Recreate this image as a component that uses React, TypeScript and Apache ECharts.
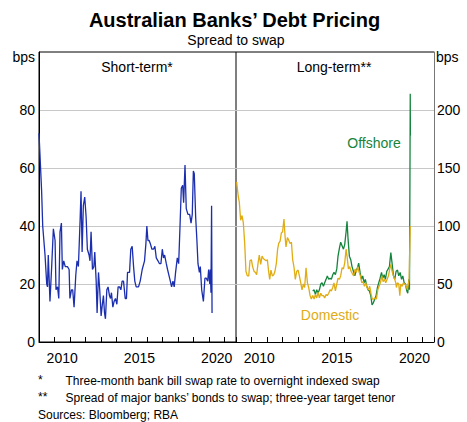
import React, { useEffect, useRef } from "react";
import * as echarts from "echarts";

const FONT = "'Liberation Sans', Arial, Helvetica, sans-serif";

// Short-term (BBSW-OIS), decimal years and bps
const shortX = [2009.0, 2009.17, 2009.24, 2009.39, 2009.5, 2009.55, 2009.6, 2009.71, 2009.82, 2009.93,
  2010.04, 2010.1, 2010.2, 2010.28, 2010.36, 2010.45, 2010.51, 2010.6, 2010.7, 2010.84,
  2010.95, 2011.0, 2011.1, 2011.18, 2011.27, 2011.38, 2011.46, 2011.55, 2011.66, 2011.72,
  2011.79, 2011.87, 2011.96, 2012.05, 2012.13, 2012.24, 2012.3, 2012.37, 2012.46, 2012.55,
  2012.61, 2012.7, 2012.76, 2012.85, 2012.93, 2013.02, 2013.1, 2013.17, 2013.24, 2013.3,
  2013.39, 2013.47, 2013.56, 2013.63, 2013.69, 2013.78, 2013.86, 2013.95, 2014.04, 2014.12,
  2014.21, 2014.3, 2014.38, 2014.47, 2014.58, 2014.66, 2014.73, 2014.86, 2014.94, 2015.03,
  2015.12, 2015.2, 2015.29, 2015.44, 2015.55, 2015.68, 2015.83, 2015.92, 2015.98, 2016.05,
  2016.13, 2016.2, 2016.31, 2016.41, 2016.5, 2016.59, 2016.7, 2016.8, 2016.89, 2016.98,
  2017.06, 2017.13, 2017.24, 2017.32, 2017.41, 2017.5, 2017.58, 2017.67, 2017.75, 2017.84,
  2017.95, 2018.04, 2018.12, 2018.21, 2018.3, 2018.36, 2018.45, 2018.53, 2018.64, 2018.75,
  2018.84, 2018.92, 2018.99, 2019.05, 2019.14, 2019.22, 2019.29, 2019.38, 2019.44, 2019.53,
  2019.64, 2019.74, 2019.83, 2019.92, 2019.98, 2020.05, 2020.09, 2020.13, 2020.17, 2020.2];
const shortV = [72, 52, 40, 30, 20, 19, 30, 14, 26, 39,
  35, 18, 19, 15, 38, 41, 25, 28, 26, 26,
  25, 15, 18, 18, 12, 23, 28, 26, 42, 52,
  31, 47, 50, 43, 32, 30, 28, 38, 25, 26,
  31, 21, 10, 24, 18, 9, 13, 16, 10, 8,
  18, 19, 16, 15, 17, 12, 14, 15, 13, 19,
  19, 18, 21, 21, 15, 15, 24, 24, 32, 33,
  26, 21, 19, 19, 21, 25, 28, 34, 40, 35,
  35, 34, 32, 32, 33, 29, 28, 27, 27, 32,
  29, 30, 27, 25, 23, 21, 19, 21, 19, 24,
  29, 27, 39, 53, 54, 48, 61, 46, 44, 44,
  41, 44, 59, 58, 43, 35, 27, 24, 26, 18,
  14, 22, 22, 21, 25, 20, 25, 17, 47, 10];

// Long-term, domestic
const domX = [2009.04, 2009.15, 2009.21, 2009.3, 2009.39, 2009.47, 2009.56, 2009.64, 2009.73, 2009.82,
  2009.9, 2009.99, 2010.07, 2010.16, 2010.25, 2010.33, 2010.42, 2010.5, 2010.59, 2010.68,
  2010.76, 2010.85, 2010.93, 2011.02, 2011.1, 2011.17, 2011.25, 2011.34, 2011.43, 2011.51,
  2011.6, 2011.68, 2011.75, 2011.84, 2011.92, 2012.0, 2012.09, 2012.16, 2012.22, 2012.31,
  2012.39, 2012.48, 2012.57, 2012.65, 2012.74, 2012.82, 2012.91, 2013.0, 2013.08, 2013.17,
  2013.25, 2013.34, 2013.42, 2013.51, 2013.6, 2013.68, 2013.77, 2013.85, 2013.94, 2014.03,
  2014.11, 2014.2, 2014.28, 2014.37, 2014.46, 2014.54, 2014.63, 2014.71, 2014.8, 2014.88,
  2014.97, 2015.06, 2015.14, 2015.23, 2015.31, 2015.4, 2015.49, 2015.57, 2015.66, 2015.74,
  2015.83, 2015.92, 2016.0, 2016.09, 2016.15, 2016.24, 2016.32, 2016.41, 2016.49, 2016.58,
  2016.67, 2016.75, 2016.84, 2016.93, 2017.01, 2017.1, 2017.18, 2017.27, 2017.35, 2017.44,
  2017.53, 2017.61, 2017.7, 2017.78, 2017.87, 2017.96, 2018.04, 2018.13, 2018.21, 2018.3,
  2018.39, 2018.47, 2018.56, 2018.64, 2018.73, 2018.82, 2018.9, 2018.97, 2019.05, 2019.14,
  2019.22, 2019.29, 2019.33, 2019.4, 2019.48, 2019.55, 2019.61, 2019.7, 2019.78, 2019.87,
  2019.96, 2020.04, 2020.11, 2020.15, 2020.2, 2020.22];
const domV = [138, 125, 121, 105, 109, 103, 85, 61, 57, 57,
  70, 71, 65, 61, 60, 58, 68, 75, 67, 74,
  72, 71, 70, 71, 61, 54, 62, 57, 58, 61,
  68, 80, 85, 87, 94, 95, 106, 91, 82, 90,
  88, 85, 86, 71, 64, 54, 61, 62, 57, 51,
  45, 50, 47, 64, 51, 47, 40, 37, 40, 37,
  41, 38, 43, 38, 42, 40, 40, 38, 41, 40,
  42, 45, 44, 47, 51, 44, 50, 55, 54, 57,
  64, 63, 68, 80, 74, 63, 65, 61, 59, 57,
  63, 60, 65, 60, 57, 51, 52, 48, 51, 47,
  45, 48, 41, 37, 37, 38, 37, 45, 48, 51,
  57, 52, 54, 51, 54, 57, 63, 67, 61, 57,
  54, 51, 47, 51, 50, 40, 50, 48, 51, 50,
  48, 45, 51, 54, 88, 100];

// Long-term, offshore
const offX = [2013.94, 2014.03, 2014.11, 2014.2, 2014.28, 2014.37, 2014.46, 2014.54, 2014.63, 2014.71,
  2014.8, 2014.88, 2014.97, 2015.06, 2015.14, 2015.23, 2015.31, 2015.4, 2015.49, 2015.57,
  2015.66, 2015.74, 2015.83, 2015.92, 2016.0, 2016.09, 2016.15, 2016.22, 2016.3, 2016.39,
  2016.47, 2016.56, 2016.65, 2016.73, 2016.82, 2016.9, 2016.99, 2017.08, 2017.16, 2017.25,
  2017.33, 2017.42, 2017.5, 2017.59, 2017.68, 2017.76, 2017.85, 2017.94, 2018.02, 2018.11,
  2018.19, 2018.28, 2018.37, 2018.45, 2018.54, 2018.62, 2018.71, 2018.8, 2018.88, 2018.97,
  2019.05, 2019.14, 2019.22, 2019.31, 2019.4, 2019.48, 2019.57, 2019.66, 2019.74, 2019.83,
  2019.91, 2020.0, 2020.06, 2020.13, 2020.17, 2020.2, 2020.22, 2020.23];
const offV = [44, 45, 41, 45, 42, 45, 50, 51, 48, 51,
  54, 57, 54, 55, 54, 58, 60, 58, 63, 74,
  81, 86, 83, 80, 84, 95, 104, 88, 74, 71,
  65, 61, 57, 61, 64, 68, 60, 54, 57, 51,
  54, 48, 45, 44, 40, 32, 34, 37, 40, 47,
  51, 55, 60, 55, 58, 54, 61, 63, 65, 77,
  68, 57, 54, 61, 62, 57, 60, 54, 57, 51,
  50, 44, 42, 54, 45, 137, 214, 178];

const yearLabels = [2010, 2015, 2020];
const leftTicks = [0, 20, 40, 60, 80];
const rightTicks = [0, 50, 100, 150, 200];

const zip = (xs: number[], ys: number[]) => xs.map((x, i) => [x, ys[i]]);

const BLUE = "#1a2eae";
const GOLD = "#e0ac12";
const GREEN = "#15843c";

export default function App() {
  const ref = useRef<HTMLDivElement>(null);
  useEffect(() => {
    const chart = echarts.init(ref.current!, null, { renderer: "svg", width: 467, height: 422 });
    const tickAxis = (gridIndex: number) => ({
      type: "value", gridIndex, min: 2009, max: 2021.75, interval: 1, position: "bottom",
      axisLine: { show: true, lineStyle: { color: "#000", width: 1 } },
      axisTick: { show: true, inside: true, length: 5, lineStyle: { color: "#000" } },
      axisLabel: { show: false }, splitLine: { show: false },
    });
    const labelAxis = (gridIndex: number) => ({
      type: "value", gridIndex, min: 2009, max: 2021.75, interval: 0.5, position: "bottom",
      axisLine: { show: false }, axisTick: { show: false }, splitLine: { show: false },
      axisLabel: {
        show: true, margin: 9, fontSize: 14, color: "#000", fontFamily: FONT,
        showMinLabel: true, showMaxLabel: true,
        formatter: (v: number) => {
          const y = Math.round(v * 2) / 2 - 0.5;
          return yearLabels.includes(y) && Math.abs(v - y - 0.5) < 0.01 ? String(y) : "";
        },
      },
    });
    const option: any = {
      animation: false,
      textStyle: { fontFamily: FONT },
      grid: [
        { left: 39, top: 52, width: 197, height: 290, show: true, borderColor: "#000", borderWidth: 1, backgroundColor: "transparent" },
        { left: 236, top: 52, width: 198, height: 290, show: false },
      ],
      xAxis: [tickAxis(0), labelAxis(0), tickAxis(1), labelAxis(1)],
      yAxis: [
        {
          type: "value", gridIndex: 0, min: 0, max: 100, interval: 20, position: "left",
          axisLine: { show: true, lineStyle: { color: "#000" } }, axisTick: { show: false },
          axisLabel: {
            margin: 4, fontSize: 14, color: "#000", fontFamily: FONT,
            formatter: (v: number) => (leftTicks.includes(v) ? String(v) : ""),
          },
          splitLine: { show: true, showMinLine: false, showMaxLine: false, lineStyle: { color: "#c8c8c8", width: 1 } },
        },
        {
          type: "value", gridIndex: 1, min: 0, max: 250, interval: 50, position: "right",
          axisLine: { show: true, lineStyle: { color: "#777" } }, axisTick: { show: false },
          axisLabel: {
            margin: 3, fontSize: 14, color: "#000", fontFamily: FONT,
            formatter: (v: number) => (rightTicks.includes(v) ? String(v) : ""),
          },
          splitLine: { show: true, showMinLine: false, showMaxLine: false, lineStyle: { color: "#c8c8c8", width: 1 } },
        },
      ],
      series: [
        { type: "line", name: "Short-term", xAxisIndex: 0, yAxisIndex: 0, data: zip(shortX, shortV), symbol: "none", lineStyle: { color: BLUE, width: 1.3 }, silent: true },
        { type: "line", name: "Offshore", xAxisIndex: 2, yAxisIndex: 1, data: zip(offX, offV), symbol: "none", lineStyle: { color: GREEN, width: 1.3 }, silent: true },
        { type: "line", name: "Domestic", xAxisIndex: 2, yAxisIndex: 1, data: zip(domX, domV), symbol: "none", lineStyle: { color: GOLD, width: 1.3 }, silent: true },
      ],
      graphic: [
        { type: "line", shape: { x1: 236, y1: 52, x2: 434, y2: 52 }, style: { stroke: "#000", lineWidth: 1 }, silent: true },
        { type: "text", x: 234.5, y: 20, style: { text: "Australian Banks’ Debt Pricing", font: `bold 20px ${FONT}`, fill: "#000", textAlign: "center", textVerticalAlign: "middle" } },
        { type: "text", x: 236, y: 40, style: { text: "Spread to swap", font: `14px ${FONT}`, fill: "#000", textAlign: "center", textVerticalAlign: "middle" } },
        { type: "text", x: 137, y: 67, style: { text: "Short-term*", font: `14px ${FONT}`, fill: "#000", textAlign: "center", textVerticalAlign: "middle" } },
        { type: "text", x: 334, y: 67, style: { text: "Long-term**", font: `14px ${FONT}`, fill: "#000", textAlign: "center", textVerticalAlign: "middle" } },
        { type: "text", x: 35, y: 57, style: { text: "bps", font: `14px ${FONT}`, fill: "#000", textAlign: "right", textVerticalAlign: "middle" } },
        { type: "text", x: 436, y: 57, style: { text: "bps", font: `14px ${FONT}`, fill: "#000", textAlign: "left", textVerticalAlign: "middle" } },
        { type: "text", x: 374, y: 143, style: { text: "Offshore", font: `14px ${FONT}`, fill: GREEN, textAlign: "center", textVerticalAlign: "middle" } },
        { type: "text", x: 330, y: 315, style: { text: "Domestic", font: `14px ${FONT}`, fill: GOLD, textAlign: "center", textVerticalAlign: "middle" } },
        { type: "text", x: 38, y: 380, style: { text: "*", font: `12px ${FONT}`, fill: "#000", textAlign: "left", textVerticalAlign: "middle" } },
        { type: "text", x: 65.5, y: 380.5, style: { text: "Three-month bank bill swap rate to overnight indexed swap", font: `12px ${FONT}`, fill: "#000", textAlign: "left", textVerticalAlign: "middle" } },
        { type: "text", x: 38, y: 397, style: { text: "**", font: `12px ${FONT}`, fill: "#000", textAlign: "left", textVerticalAlign: "middle" } },
        { type: "text", x: 65.5, y: 397.5, style: { text: "Spread of major banks’ bonds to swap; three-year target tenor", font: `12px ${FONT}`, fill: "#000", textAlign: "left", textVerticalAlign: "middle" } },
        { type: "text", x: 38, y: 415, style: { text: "Sources: Bloomberg; RBA", font: `12px ${FONT}`, fill: "#000", textAlign: "left", textVerticalAlign: "middle" } },
      ],
    };
    chart.setOption(option);
    return () => chart.dispose();
  }, []);
  return <div ref={ref} style={{ position: "fixed", left: 0, top: 0, width: 467, height: 422, background: "#fff" }} />;
}
